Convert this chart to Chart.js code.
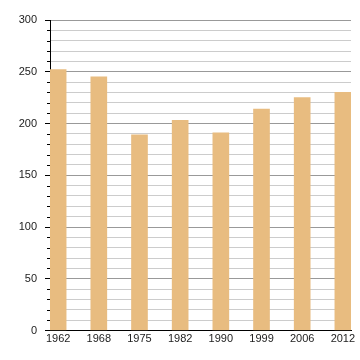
<!DOCTYPE html>
<html>
<head>
<meta charset="utf-8">
<script src="https://cdn.jsdelivr.net/npm/chart.js@4"></script>
<style>
html,body{margin:0;padding:0;background:#fff;}
#wrap{width:360px;height:360px;position:relative;}
</style>
</head>
<body>
<div id="wrap"><canvas id="c" width="360" height="360"></canvas></div>
<script>
const years = ['1962','1968','1975','1982','1990','1999','2006','2012'];
const population = [252, 245, 189, 203, 191, 214, 225, 230];
const yMin = 0, yMax = 300, minorStep = 10, majorStep = 50;

const minorTicks = {
  id: 'minorTicks',
  afterDraw(chart) {
    const y = chart.scales.y, ctx = chart.ctx, left = chart.chartArea.left;
    ctx.save();
    ctx.strokeStyle = '#000';
    ctx.lineWidth = 1;
    y.ticks.forEach(t => {
      if (t.value % majorStep !== 0) {
        const py = Math.round(y.getPixelForValue(t.value)) + 0.5;
        ctx.beginPath();
        ctx.moveTo(left - 3, py);
        ctx.lineTo(left, py);
        ctx.stroke();
      }
    });
    ctx.restore();
  }
};

new Chart(document.getElementById('c'), {
  type: 'bar',
  data: {
    datasets: [{
      data: population.map((v, i) => ({x: i, y: v})),
      backgroundColor: 'rgb(232,188,128)',
      borderWidth: 0,
      barThickness: 16
    }]
  },
  options: {
    responsive: false,
    animation: false,
    events: [],
    layout: {padding: {top: 20, right: 9, left: 0, bottom: 0}},
    plugins: {legend: {display: false}, tooltip: {enabled: false}},
    scales: {
      x: {
        type: 'linear',
        offset: false,
        min: -0.2,
        max: years.length - 0.8,
        afterBuildTicks: axis => { axis.ticks = years.map((_, i) => ({value: i})); },
        afterFit: s => { s.height = 29.5; },
        grid: {display: false, drawTicks: false, offset: false},
        border: {display: true, color: '#000', width: 1},
        ticks: {
          callback: v => years[v],
          color: '#222',
          font: {family: 'Liberation Sans', size: 11},
          padding: 2,
          maxRotation: 0,
          autoSkip: false
        }
      },
      y: {
        min: yMin,
        max: yMax,
        afterFit: s => { s.width = 50; },
        grid: {
          color: c => (c.tick.value % majorStep === 0 ? '#999' : '#ccc'),
          tickColor: c => (c.tick.value % majorStep === 0 ? '#000' : 'rgba(0,0,0,0)'),
          tickLength: 5,
          drawTicks: true
        },
        border: {display: true, color: '#000', width: 1},
        ticks: {
          stepSize: minorStep,
          autoSkip: false,
          callback: v => (v % majorStep === 0 ? v : ''),
          color: '#222',
          font: {family: 'Liberation Sans', size: 11},
          padding: 8
        }
      }
    }
  },
  plugins: [minorTicks]
});
</script>
</body>
</html>
